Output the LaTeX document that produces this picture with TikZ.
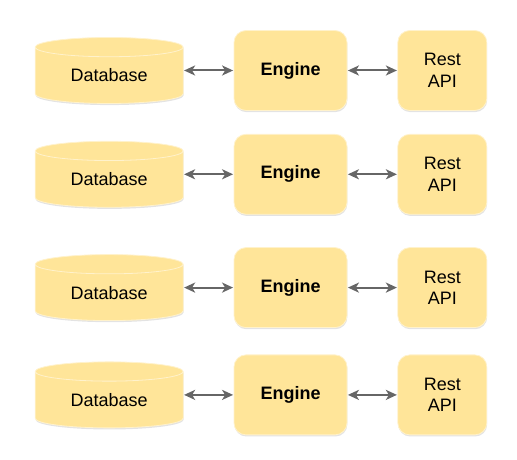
\documentclass[tikz,border=0pt]{standalone}
\usepackage{fontspec}
\setmainfont{Liberation Sans}
\usetikzlibrary{arrows.meta,positioning,shapes.geometric,shadows}
\definecolor{boxyellow}{HTML}{FFE599}
\definecolor{boxedge}{HTML}{FFF2CC}
\definecolor{arrgray}{HTML}{666666}

\begin{document}
\begin{tikzpicture}[auto]
	  \tikzstyle{every node}=[font=\fontsize{18}{21.5}\selectfont,text=black]
	  \tikzstyle{soft}=[fill=boxyellow,draw=boxedge,line width=0.8pt,
	                    drop shadow={shadow xshift=0.4pt,shadow yshift=-1.6pt,opacity=0.22}]
	  \tikzstyle{engine}=[soft,rounded corners=12pt,minimum width=113pt,
	                      minimum height=80pt,inner sep=0pt,font=\fontsize{18}{21.5}\selectfont\bfseries]
	  \tikzstyle{api}=[soft,rounded corners=12pt,minimum width=89pt,
	                   minimum height=80pt,inner sep=0pt,align=center]
	  \tikzstyle{db}=[soft,cylinder,shape border rotate=90,aspect=0.25,
	                  minimum width=148pt,minimum height=66pt,inner sep=0pt,yshift=-5pt]
	  \tikzstyle{link}=[{Stealth[length=11pt,width=10pt,inset=3pt]}-{Stealth[length=11pt,width=10pt,inset=3pt]},
	                    draw=arrgray,line width=2pt,shorten <=0.5pt,shorten >=0.5pt]

	  \useasboundingbox (0,0) rectangle (517pt,460pt);

	  \node[engine]        (E1) at (290.5pt,389.5pt)      {Engine};
	  \node[engine]        (E2) [below=23pt of E1]        {Engine};
	  \node[engine]        (E3) [below=32.5pt of E2]      {Engine};
	  \node[engine]        (E4) [below=26.5pt of E3]      {Engine};

	  \node[db]            (D1) [left=50pt of E1]         {Database};
	  \node[db]            (D2) [left=50pt of E2]         {Database};
	  \node[db]            (D3) [left=50pt of E3]         {Database};
	  \node[db]            (D4) [left=50pt of E4]         {Database};

	  \node[api]           (A1) [right=50pt of E1]        {Rest\\API};
	  \node[api]           (A2) [right=50pt of E2]        {Rest\\API};
	  \node[api]           (A3) [right=50pt of E3]        {Rest\\API};
	  \node[api]           (A4) [right=50pt of E4]        {Rest\\API};

	  \path (D1.east |- E1) edge[link] (E1)
	        (E1) edge[link] (A1)
	        (D2.east |- E2) edge[link] (E2)
	        (E2) edge[link] (A2)
	        (D3.east |- E3) edge[link] (E3)
	        (E3) edge[link] (A3)
	        (D4.east |- E4) edge[link] (E4)
	        (E4) edge[link] (A4);
	\end{tikzpicture}
\end{document}
